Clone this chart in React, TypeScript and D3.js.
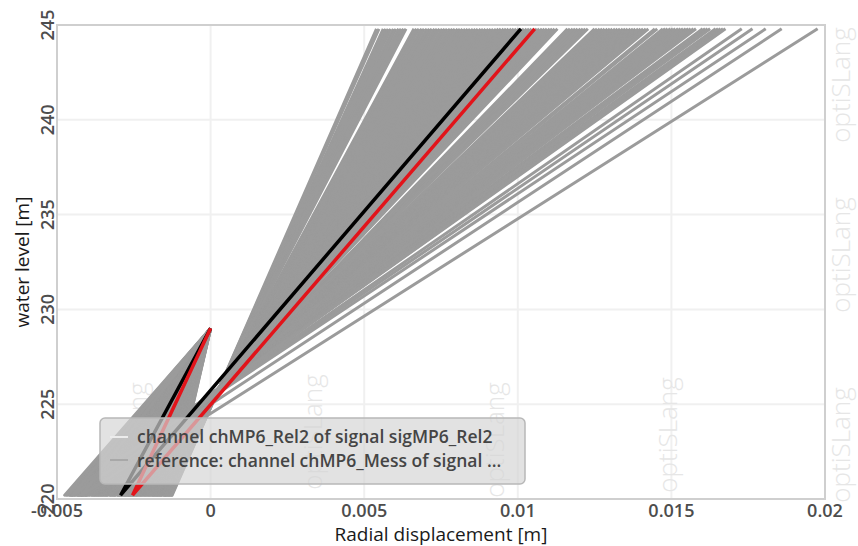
import React from "react";
import * as d3 from "d3";

// water levels of the three support points of every curve [m]
const levels = [229, 220.2, 244.8];

// displacement of each sample curve [mm] at the lowest level and at the top level
const sampleBottom = [
  -1.25, -1.27, -1.3, -1.33, -1.35, -1.38, -1.4, -1.43, -1.46, -1.48, -1.51, -1.53,
  -1.58, -1.6, -1.63, -1.65, -1.68, -1.71, -1.73, -1.76, -1.78, -1.81, -1.84, -1.86,
  -1.89, -1.91, -1.94, -1.97, -1.99, -2.02, -2.04, -2.07, -2.1, -2.12, -2.15, -2.17,
  -2.2, -2.23, -2.25, -2.28, -2.3, -2.33, -2.36, -2.38, -2.41, -2.43, -2.46, -2.49,
  -2.51, -2.54, -2.56, -2.59, -2.62, -2.64, -2.67, -2.69, -2.72, -2.75, -2.77, -2.8,
  -2.82, -2.85, -2.88, -2.9, -2.93, -2.95, -2.98, -3.01, -3.03, -3.08, -3.11, -3.13,
  -3.16, -3.18, -3.21, -3.24, -3.26, -3.29, -3.34, -3.37, -3.39, -3.42, -3.44, -3.47,
  -3.5, -3.52, -3.55, -3.57, -3.6, -3.63, -3.65, -3.68, -3.7, -3.73, -3.76, -3.78,
  -3.81, -3.83, -3.86, -3.89, -3.94, -3.96, -4.01, -4.03, -4.06, -4.08, -4.11, -4.14,
  -4.16, -4.19, -4.21, -4.24, -4.27, -4.29, -4.32, -4.34, -4.39, -4.42, -4.44, -4.47,
  -4.51, -4.53, -4.56, -4.58, -4.61, -4.66, -4.7, -4.75, -4.5, -4.2,
];
const sampleTop = [
  5.4, 5.48, 5.62, 5.7, 5.78, 5.86, 5.95, 6.03, 6.12, 6.2, 6.28, 6.36,
  6.62, 6.7, 6.78, 6.87, 6.95, 7.04, 7.12, 7.2, 7.29, 7.37, 7.45, 7.54,
  7.62, 7.7, 7.79, 7.87, 7.95, 8.04, 8.12, 8.2, 8.29, 8.37, 8.45, 8.54,
  8.62, 8.7, 8.79, 8.87, 8.95, 9.04, 9.12, 9.2, 9.29, 9.37, 9.45, 9.54,
  9.62, 9.7, 9.79, 9.87, 9.95, 10.04, 10.12, 10.2, 10.29, 10.37, 10.45, 10.54,
  10.62, 10.7, 10.79, 10.87, 10.95, 11.04, 11.12, 11.2, 11.29, 11.62, 11.7, 11.79,
  11.87, 11.95, 12.04, 12.12, 12.2, 12.28, 12.5, 12.58, 12.67, 12.75, 12.83, 12.92,
  13.0, 13.08, 13.17, 13.25, 13.33, 13.42, 13.5, 13.58, 13.67, 13.75, 13.83, 13.92,
  14.0, 14.08, 14.17, 14.25, 14.46, 14.54, 14.72, 14.8, 14.88, 14.97, 15.05, 15.13,
  15.22, 15.3, 15.38, 15.47, 15.55, 15.63, 15.72, 15.8, 16.02, 16.1, 16.18, 16.26,
  16.44, 16.52, 16.6, 16.68, 16.76, 17.29, 17.64, 18.07, 18.59, 19.76,
];

// channel chMP6_Rel2 (black) and reference chMP6_Mess (red), [m] at levels
const chMP6Rel2 = [0, -0.00293, 0.0101];
const chMP6Mess = [0, -0.00254, 0.01055];

const xTicks = [-0.005, 0, 0.005, 0.01, 0.015, 0.02];
const xTickLabels = ["-0.005", "0", "0.005", "0.01", "0.015", "0.02"];
const yTicks = [220, 225, 230, 235, 240, 245];
const legendLabels = [
  "channel chMP6_Rel2 of signal sigMP6_Rel2",
  "reference: channel chMP6_Mess of signal ...",
];
const watermarks = [
  [140, 440], [315, 432], [497, 440], [670, 435], [843, 85], [843, 255], [843, 445],
];

const W = 858;
const H = 546;
const plot = { left: 57, right: 825, top: 25, bottom: 499 };
const font = "'Open Sans', 'DejaVu Sans', sans-serif";

export default function App() {
  const x = d3.scaleLinear().domain([-0.005, 0.02]).range([plot.left, plot.right]);
  const y = d3.scaleLinear().domain([220, 245]).range([plot.bottom, plot.top]);
  const line = d3
    .line<number>()
    .x((d) => x(d))
    .y((_, i) => y(levels[i]));

  const samples = sampleBottom.map((b, i) => [0, b / 1000, sampleTop[i] / 1000]);

  return (
    <svg
      width={W}
      height={H}
      style={{ position: "absolute", left: 0, top: 0, background: "#fff" }}
    >
      {/* grid */}
      {xTicks.map((t) => (
        <line key={"gx" + t} x1={x(t)} x2={x(t)} y1={plot.top} y2={plot.bottom} stroke="#f0f0f0" strokeWidth={2} />
      ))}
      {yTicks.map((t) => (
        <line key={"gy" + t} x1={plot.left} x2={plot.right} y1={y(t)} y2={y(t)} stroke="#f0f0f0" strokeWidth={2} />
      ))}

      {/* watermarks */}
      {watermarks.map(([wx, wy], i) => (
        <text
          key={"wm" + i}
          transform={`translate(${wx},${wy}) rotate(-90)`}
          textAnchor="middle"
          dominantBaseline="middle"
          fontFamily={font}
          fontWeight={300}
          fontSize={26}
          fill="#e6e6e6"
        >
          optiSLang
        </text>
      ))}

      {/* frame */}
      <rect
        x={plot.left}
        y={plot.top}
        width={plot.right - plot.left}
        height={plot.bottom - plot.top}
        fill="none"
        stroke="#cfcfcf"
        strokeWidth={2}
      />

      {/* sample curves */}
      <g fill="none" stroke="#9b9b9b" strokeWidth={3} strokeLinejoin="round">
        {samples.map((s, i) => (
          <path key={"s" + i} d={line(s) || ""} />
        ))}
      </g>
      <path d={line(chMP6Rel2) || ""} fill="none" stroke="#000" strokeWidth={3.5} />
      <path d={line(chMP6Mess) || ""} fill="none" stroke="#e2141a" strokeWidth={3.5} />

      {/* tick labels */}
      {xTicks.map((t, i) => (
        <text
          key={"tx" + t}
          x={x(t)}
          y={517}
          textAnchor="middle"
          fontFamily={font}
          fontWeight={600}
          fontSize={18}
          fill="#4d4d4d"
        >
          {xTickLabels[i]}
        </text>
      ))}
      {yTicks.map((t) => (
        <text
          key={"ty" + t}
          transform={`translate(54,${y(t)}) rotate(-90)`}
          textAnchor="middle"
          fontFamily={font}
          fontWeight={600}
          fontSize={18}
          fill="#4d4d4d"
        >
          {t}
        </text>
      ))}

      {/* axis titles */}
      <text
        transform={`translate(29,${(plot.top + plot.bottom) / 2}) rotate(-90)`}
        textAnchor="middle"
        fontFamily={font}
        fontSize={19}
        fill="#1a1a1a"
      >
        water level [m]
      </text>
      <text
        x={(plot.left + plot.right) / 2}
        y={541}
        textAnchor="middle"
        fontFamily={font}
        fontSize={19}
        fill="#1a1a1a"
      >
        Radial displacement [m]
      </text>

      {/* legend */}
      <g>
        <rect x={100} y={418} width={425} height={66} rx={5} fill="rgb(212,212,212)" fillOpacity={0.68} stroke="#b8b8b8" strokeWidth={1.5} />
        <line x1={110} x2={128} y1={437} y2={437} stroke="#ececec" strokeWidth={2} />
        <line x1={110} x2={128} y1={460} y2={460} stroke="#a8a8a8" strokeWidth={2} />
        {legendLabels.map((l, i) => (
          <text
            key={"lg" + i}
            x={137}
            y={443 + i * 24}
            fontFamily={font}
            fontWeight={600}
            fontSize={17.5}
            fill="#454545"
          >
            {l}
          </text>
        ))}
      </g>
    </svg>
  );
}
